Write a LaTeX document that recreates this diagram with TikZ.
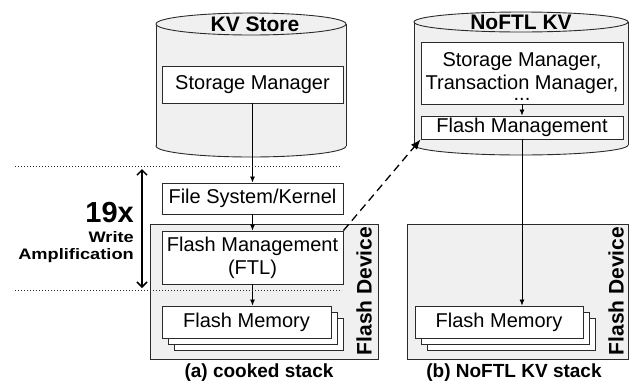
\documentclass[tikz,border=0pt]{standalone}
\usepackage{fontspec}
\setmainfont{Liberation Sans}
\newfontfamily\widesans[FakeStretch=1.2]{Liberation Sans}
\usetikzlibrary{arrows.meta}
\definecolor{devfill}{HTML}{F0F0F0}
\definecolor{edgec}{HTML}{2A2A2A}
\begin{document}
\begin{tikzpicture}[x=1pt,y=-1pt,
  box/.style={draw=edgec, fill=white, line width=0.9pt, inner sep=0pt, align=center,
    font=\fontsize{20}{23}\selectfont},
  device/.style={draw=edgec, fill=devfill, line width=0.9pt},
  cyl/.style={draw=edgec, fill=devfill, line width=0.9pt},
  title/.style={font=\bfseries\fontsize{21}{24}\selectfont, inner sep=0pt},
  devlabel/.style={font=\bfseries\fontsize{21}{24}\selectfont, rotate=90, inner sep=0pt},
  caption/.style={font=\bfseries\fontsize{19}{22}\selectfont, inner sep=0pt},
  walabel/.style={anchor=base east, inner sep=0pt, font=\widesans\bfseries\fontsize{15.2}{17}\selectfont},
  flow/.style={draw=black, line width=0.8pt, -{Latex[length=6pt,width=5pt]}},
  sepline/.style={draw=edgec, line width=0.9pt, dash pattern=on 1pt off 2pt},
]
\useasboundingbox (0,0) rectangle (631,381);

% ---------- left cylinder ----------
\path[cyl] (251,146) ellipse [x radius=95, y radius=11];
\fill[devfill] (156,24) rectangle (346,146);
\draw[edgec, line width=0.9pt] (156,24) -- (156,146) (346,24) -- (346,146);
\path[cyl] (251,24) ellipse [x radius=95, y radius=11];
\node[title] (kvt) at (255,24) {KV Store};

% ---------- right cylinder ----------
\path[cyl] (521,145) ellipse [x radius=107, y radius=10];
\fill[devfill] (414,22) rectangle (628,145);
\draw[edgec, line width=0.9pt] (414,22) -- (414,145) (628,22) -- (628,145);
\path[cyl] (521,22) ellipse [x radius=107, y radius=10];
\node[title] (nkvt) at (521,22) {NoFTL KV};

% ---------- flash devices ----------
\path[device] (150,224) rectangle (378,359);
\path[device] (407,224) rectangle (628,359);
\node[devlabel] (devl) at (364,291) {Flash Device};
\node[devlabel] (devr) at (616,291) {Flash Device};

% ---------- left stack ----------
\node[box, minimum width=181pt, minimum height=37pt] (sm) at (252.5,84.5) {Storage Manager};
\node[box, minimum width=181pt, minimum height=31pt] (fs) at (252.5,198.5) {File System/Kernel};
\node[box, minimum width=181pt, minimum height=53pt] (ftl) at (252.5,257.5) {Flash Management\\(FTL)};
\node[box, minimum width=169pt, minimum height=32pt] (fmemLc) at (258.5,334) {};
\node[box, minimum width=169pt, minimum height=32pt] (fmemLb) at (252.5,328) {};
\node[box, minimum width=169pt, minimum height=32pt] (fmemL) at (246.5,322) {Flash Memory};

\draw[flow] (sm.south) -- (fs.north);
\draw[flow] (fs.south) -- (ftl.north);
\draw[flow] (ftl.south) -- (ftl.south |- fmemL.north);

% ---------- right stack ----------
\node[box, minimum width=202pt, minimum height=62pt] (smtm) at (522,73)
  {\rule{0pt}{20pt}Storage Manager,\\Transaction Manager,\\[-12pt]...};
\node[box, minimum width=202pt, minimum height=23pt] (fm2) at (522,127.5) {Flash Management};
\node[box, minimum width=168pt, minimum height=32pt] (fmemRc) at (511,334) {};
\node[box, minimum width=168pt, minimum height=32pt] (fmemRb) at (505,328) {};
\node[box, minimum width=168pt, minimum height=32pt] (fmemR) at (499,322) {Flash Memory};

\draw[flow] (smtm.south) -- (fm2.north);
\draw[flow] (fm2.south) -- (fm2.south |- fmemR.north);

% ---------- dashed link ----------
\draw[black, line width=1.3pt, dash pattern=on 8pt off 5pt, -{Latex[length=10pt,width=8pt]}]
  (ftl.north east) -- (fm2.south west);

% ---------- separators and write amplification ----------
\coordinate (s1a) at (15,166);  \coordinate (s1b) at (342,166);
\coordinate (s2a) at (15,290);  \coordinate (s2b) at (342,290);
\path[sepline] (s1a) -- (s1b);
\path[sepline] (s2a) -- (s2b);
\coordinate (wa1) at (142,169); \coordinate (wa2) at (142,288);
\draw[black, line width=1.5pt, {Straight Barb[length=5pt,width=10pt]}-{Straight Barb[length=5pt,width=10pt]}] (wa1) -- (wa2);

\node[anchor=base east, inner sep=0pt, font=\bfseries\fontsize{29}{32}\selectfont] (wx) at (134,222) {19x};
\node[walabel] (wr) at (134,242) {Write};
\node[walabel] (am) at (134,259) {Amplification};

% ---------- captions ----------
\node[caption] (capa) at (259,373) {(a) cooked stack};
\node[caption] (capb) at (514,373) {(b) NoFTL KV stack};
\end{tikzpicture}
\end{document}
